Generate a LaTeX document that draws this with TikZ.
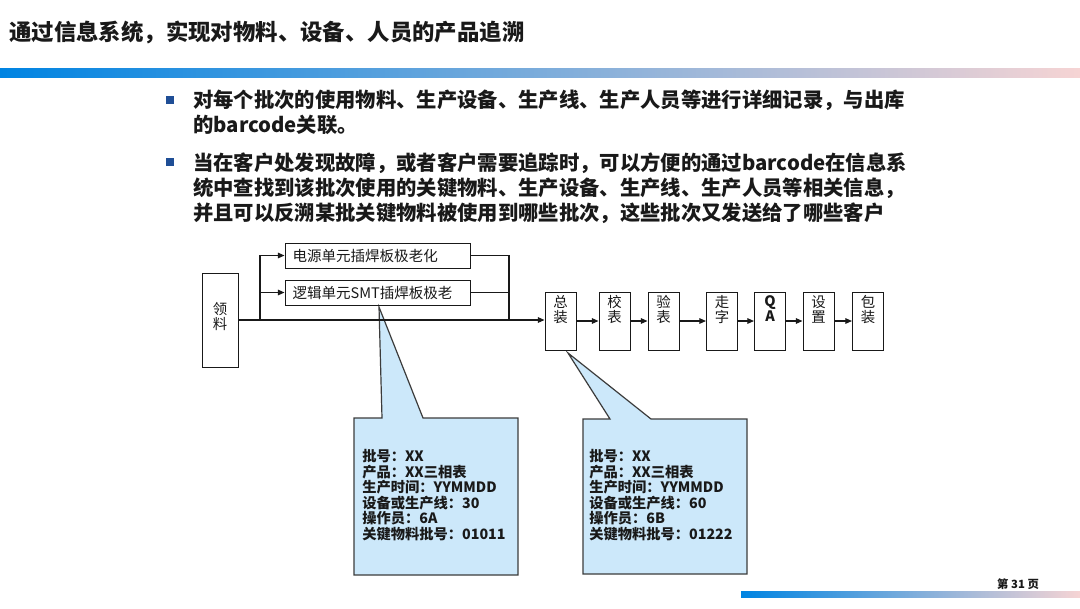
\documentclass[tikz,border=0pt]{standalone}
\usepackage{fontspec}
\setmainfont{Noto Sans CJK SC}
\usetikzlibrary{arrows.meta}
\definecolor{barL}{RGB}{0,132,226}
\definecolor{barM}{RGB}{150,170,205}
\definecolor{barR}{RGB}{246,212,212}
\definecolor{callfill}{RGB}{204,232,250}
\definecolor{bulletc}{RGB}{31,78,150}
\definecolor{ink}{RGB}{25,25,25}
\begin{document}
\begin{tikzpicture}[x=0.75pt,y=-0.75pt,
  every node/.style={text=ink},
  box/.style={draw=ink, line width=0.75pt, inner sep=0pt},
  proc/.style={box, minimum width=23.25pt, minimum height=43.5pt},
  proctext/.style={anchor=north, align=center, inner sep=0pt, font=\fontsize{10.8}{11.25}\selectfont},
  wire/.style={draw=ink, line width=0.9pt},
  arr/.style={wire, -{Triangle[length=5pt,width=4.2pt]}},
  callout/.style={draw=ink!85, line width=0.9pt, fill=callfill},
  calltext/.style={anchor=north west, align=left, inner sep=0pt, font=\fontsize{10.7}{11.6}\selectfont\bfseries},
  bullet/.style={fill=bulletc, minimum size=6.5pt, inner sep=0pt},
  bultext/.style={anchor=north west, align=left, inner sep=0pt, font=\fontsize{15.25}{18.75}\selectfont\bfseries}
]
\useasboundingbox (0,0) rectangle (1080,608);
\fill[white] (0,0) rectangle (1080,608);

% title
\node[anchor=west, inner sep=0pt, font=\fontsize{16.8}{20}\selectfont\bfseries] (title) at (9,32) {通过信息系统，实现对物料、设备、人员的产品追溯};
% gradient bars
\shade[left color=barL, middle color=barM, right color=barR] (0,68) rectangle (1080,77);
\shade[left color=barL, middle color=barM, right color=barR] (741,591) rectangle (1080,597);
\node[anchor=center, inner sep=0pt, font=\fontsize{8.5}{9}\selectfont\bfseries] (page) at (1018,584) {第 31 页};

% bullets
\node[bullet] (bu1) at (170,100) {};
\node[bultext] (t1) at (193,90) {对每个批次的使用物料、生产设备、生产线、生产人员等进行详细记录，与出库\\的barcode关联。};
\node[bullet] (bu2) at (170,162) {};
\node[bultext] (t2) at (193,152) {当在客户处发现故障，或者客户需要追踪时，可以方便的通过barcode在信息系\\统中查找到该批次使用的关键物料、生产设备、生产线、生产人员等相关信息，\\并且可以反溯某批关键物料被使用到哪些批次，这些批次又发送给了哪些客户};

% callouts
\draw[callout] (354,418) -- (382,418) -- (379,307) -- (423,418) -- (518,418) -- (518,575) -- (354,575) -- cycle;
\node[calltext] (c1) at (362,449.5) {批号：XX\\产品：XX三相表\\生产时间：YYMMDD\\设备或生产线：30\\操作员：6A\\关键物料批号：01011};
\draw[callout] (583,419) -- (610,419) -- (568,353) -- (651,419) -- (747,419) -- (747,574) -- (583,574) -- cycle;
\node[calltext] (c2) at (589,449.5) {批号：XX\\产品：XX三相表\\生产时间：YYMMDD\\设备或生产线：60\\操作员：6B\\关键物料批号：01222};

% left part
\node[box, minimum width=27pt, minimum height=70.5pt] (ll) at (220,320) {};
\node[proctext] (llt) at (220,302) {领\\料};
\node[box, minimum width=138.75pt, minimum height=18.75pt, text width=127.5pt, inner xsep=5.6pt, align=left, font=\fontsize{10.9}{12}\selectfont] (b1) at (377.5,255.5) {电源单元插焊板极老化};
\node[box, minimum width=138.75pt, minimum height=18.75pt, text width=127.5pt, inner xsep=5.6pt, align=left, font=\fontsize{10.9}{12}\selectfont] (b2) at (377.5,292.5) {逻辑单元SMT插焊板极老};

% process boxes
\node[proc] (zz) at (560.5,321) {};
\node[proc] (xb) at (614.5,321) {};
\node[proc] (yb) at (663.5,321) {};
\node[proc] (zo) at (722,321) {};
\node[proc] (qa) at (770,321) {};
\node[proc] (sz) at (818.5,321) {};
\node[proc] (bz) at (868,321) {};
\node[proctext] at (560.5,295.5) {总\\装};
\node[proctext] at (614.5,295.5) {校\\表};
\node[proctext] at (663.5,295.5) {验\\表};
\node[proctext] at (722,295.5) {走\\字};
\node[proctext, font=\fontsize{10.8}{11.25}\selectfont\bfseries] at (770,295.5) {Q\\A};
\node[proctext] at (818.5,295.5) {设\\置};
\node[proctext] at (868,295.5) {包\\装};

% connectors
\coordinate (br) at (260,320);
\coordinate (mg) at (509,320);
\draw[arr] (ll.east) -- (zz.west |- ll.east);
\draw[arr] (br) |- (b1.west);
\draw[arr] (br) |- (b2.west);
\draw[wire] (b1.east) -| (mg);
\draw[wire] (b2.east) -| (mg);
\draw[arr] (zz.east) -- (xb.west);
\draw[arr] (xb.east) -- (yb.west);
\draw[arr] (yb.east) -- (zo.west);
\draw[arr] (zo.east) -- (qa.west);
\draw[arr] (qa.east) -- (sz.west);
\draw[arr] (sz.east) -- (bz.west);
\end{tikzpicture}
\end{document}
